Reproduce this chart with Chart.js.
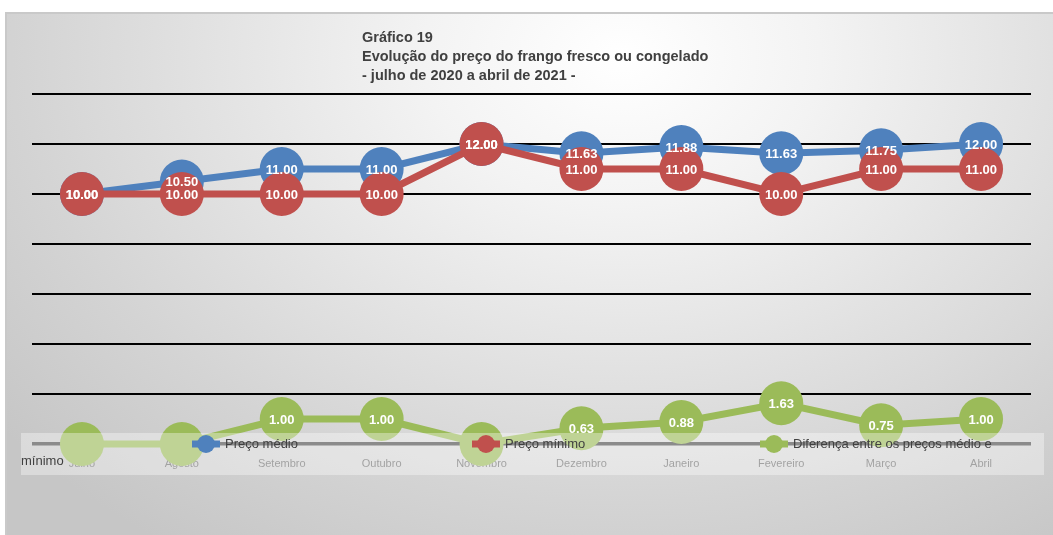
<!DOCTYPE html>
<html>
<head>
<meta charset="utf-8">
<script src="https://cdn.jsdelivr.net/npm/chart.js@4.4.1/dist/chart.umd.min.js"></script>
<style>
  html, body { margin: 0; padding: 0; background: #ffffff; }
  #wrap { position: relative; width: 1053px; height: 535px; overflow: hidden; }
  #bg { position: absolute; left: 5px; top: 12px; width: 1060px; height: 540px;
        border-top: 2px solid #c9c9c9; border-left: 2px solid #c9c9c9;
        background: radial-gradient(ellipse 75% 110% at 58% 8%, #ffffff 0%, #f3f3f3 25%, #d4d4d4 75%, #c6c6c6 100%); }
  #title { position: absolute; left: 362px; top: 28px; font-family: "Liberation Sans", Arial, sans-serif;
           font-weight: bold; font-size: 14.5px; line-height: 19px; color: #404040; white-space: pre; }
  canvas { position: absolute; left: 0; top: 0; }
</style>
</head>
<body>
<div id="wrap">
  <div id="bg"></div>
  <canvas id="c" width="1053" height="535"></canvas>
  <div id="title">Gráfico 19
Evolução do preço do frango fresco ou congelado
- julho de 2020 a abril de 2021 -</div>
</div>
<script>
const categories = ["Julho", "Agosto", "Setembro", "Outubro", "Novembro", "Dezembro", "Janeiro", "Fevereiro", "Março", "Abril"];
const precoMedio = [10.00, 10.50, 11.00, 11.00, 12.00, 11.63, 11.88, 11.63, 11.75, 12.00];
const precoMinimo = [10.00, 10.00, 10.00, 10.00, 12.00, 11.00, 11.00, 10.00, 11.00, 11.00];
const diferenca = [0.00, 0.00, 1.00, 1.00, 0.00, 0.63, 0.88, 1.63, 0.75, 1.00];
const seriesNames = ["Preço médio", "Preço mínimo", "Diferença entre os preços médio e mínimo"];
const yTicks = [0, 2, 4, 6, 8, 10, 12, 14];

const BLUE = "#4f81bd", RED = "#c0504d", GREEN = "#9bbb59";
const FONT = '"Liberation Sans", Arial, sans-serif';

function ds(label, data, color, order) {
  return {
    label, data, order,
    borderColor: color, backgroundColor: color,
    borderWidth: 7, pointRadius: 22, pointHoverRadius: 22,
    pointBackgroundColor: color, pointBorderWidth: 0,
    tension: 0, clip: false
  };
}

const labelPlugin = {
  id: "labels",
  afterDatasetsDraw(chart) {
    const ctx = chart.ctx;
    ctx.save();
    ctx.font = "bold 13px " + FONT;
    ctx.fillStyle = "#ffffff";
    ctx.textAlign = "center";
    ctx.textBaseline = "middle";
    chart.data.datasets.forEach((d, di) => {
      const meta = chart.getDatasetMeta(di);
      meta.data.forEach((pt, i) => {
        const v = d.data[i];
        if (v === 0) return;
        ctx.fillText(v.toFixed(2), pt.x, pt.y + 1);
      });
    });
    ctx.restore();
  }
};

const legendPlugin = {
  id: "fakeLegend",
  afterDraw(chart) {
    const ctx = chart.ctx;
    ctx.save();
    ctx.fillStyle = "rgba(255,255,255,0.36)";
    ctx.fillRect(21, 433, 1023, 42);
    const items = [
      { c: BLUE, x: 206, t: seriesNames[0] },
      { c: RED, x: 486, t: seriesNames[1] },
      { c: GREEN, x: 774, t: "Diferença entre os preços médio e" }
    ];
    const y = 444;
    ctx.font = "13px " + FONT;
    ctx.textBaseline = "middle";
    ctx.textAlign = "left";
    items.forEach(it => {
      ctx.strokeStyle = it.c;
      ctx.lineWidth = 7;
      ctx.beginPath(); ctx.moveTo(it.x - 14, y); ctx.lineTo(it.x + 14, y); ctx.stroke();
      ctx.fillStyle = it.c;
      ctx.beginPath(); ctx.arc(it.x, y, 9, 0, Math.PI * 2); ctx.fill();
      ctx.fillStyle = "#404040";
      ctx.fillText(it.t, it.x + 19, y);
    });
    ctx.fillText("mínimo", 21, 461);
    ctx.restore();
  }
};

new Chart(document.getElementById("c"), {
  type: "line",
  data: {
    labels: categories,
    datasets: [
      ds(seriesNames[0], precoMedio, BLUE, 3),
      ds(seriesNames[1], precoMinimo, RED, 2),
      ds(seriesNames[2], diferenca, GREEN, 1)
    ]
  },
  options: {
    responsive: false,
    animation: false,
    events: [],
    layout: { padding: { left: 32, right: 16, top: 94, bottom: 51 } },
    plugins: { legend: { display: false }, tooltip: { enabled: false }, title: { display: false } },
    scales: {
      x: {
        offset: true,
        grid: { display: false, drawTicks: false },
        border: { display: false },
        ticks: { color: "#6e6e6e", font: { family: FONT, size: 11 }, padding: 13, maxRotation: 0, autoSkip: false },
        afterFit(s) { s.height = 40; }
      },
      y: {
        min: 0, max: 14,
        afterBuildTicks(s) { s.ticks = yTicks.map(v => ({ value: v })); },
        ticks: { display: false },
        border: { display: false },
        grid: {
          drawTicks: false,
          color: c => (c.tick && c.tick.value === 0) ? "#4a4a4a" : "#000000",
          lineWidth: c => (c.tick && c.tick.value === 0) ? 3.5 : 2
        },
        afterFit(s) { s.width = 0; }
      }
    }
  },
  plugins: [labelPlugin, legendPlugin]
});
</script>
</body>
</html>
